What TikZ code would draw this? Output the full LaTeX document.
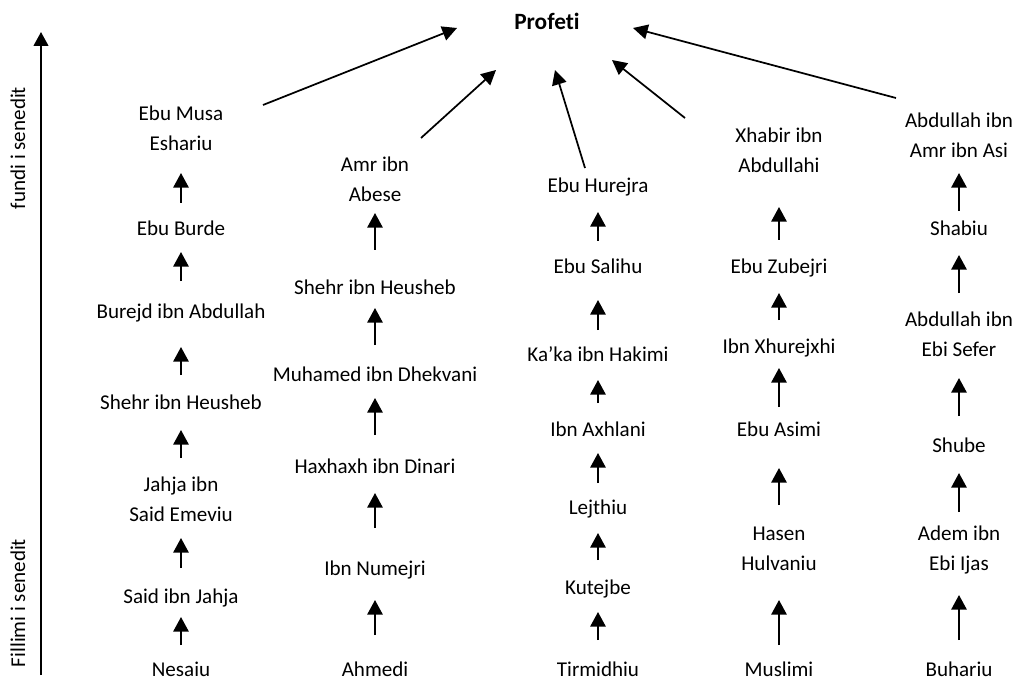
\documentclass[tikz,border=0pt]{standalone}
\usepackage{fontspec}
\setmainfont{Carlito}[Ligatures=NoCommon]
\usetikzlibrary{arrows.meta}
\begin{document}
\begin{tikzpicture}[x=0.75pt,y=-0.75pt,
  lbl/.style={font=\fontsize{15.8}{22.5}\selectfont, align=center, inner sep=0pt, anchor=base},
  arr/.style={line width=1.5pt, -{Triangle[length=11pt,width=11.5pt]}},
  darr/.style={line width=1.3pt, -{Triangle[length=11pt,width=11pt]}}]
\useasboundingbox (0,0) rectangle (1018,681);
\newcommand{\vup}[4]{% x, ybottom, ytop, name
  \coordinate (#4b) at (#1,#2);
  \coordinate (#4t) at (#1,#3);
  \draw[arr] (#4b) -- (#4t);}
% axis
\coordinate (axb) at (41,675);
\coordinate (axt) at (41,32);
\draw[line width=1.6pt,-{Triangle[length=10.5pt,width=11pt]}] (axb) -- (axt);
\node[lbl, rotate=90, anchor=center] (lt) at (18,148) {fundi i senedit};
\node[lbl, rotate=90, anchor=center] (lb) at (18,603) {Fillimi i senedit};
% top
\node[lbl, font=\fontsize{17.5}{22.5}\selectfont\bfseries] (prof) at (547,30) {Profeti};
% column 1
\node[lbl] (n11) at (181,151) {Ebu Musa\\Eshariu};
\node[lbl] (n12) at (181,236) {Ebu Burde};
\node[lbl] (n13) at (181,318) {Burejd ibn Abdullah};
\node[lbl] (n14) at (181,409) {Shehr ibn Heusheb};
\node[lbl] (n15) at (181,521) {Jahja ibn\\Said Emeviu};
\node[lbl] (n16) at (181,603) {Said ibn Jahja};
\node[lbl] (n17) at (181,676) {Nesaiu};
\vup{181}{203}{173}{a11}
\vup{181}{281}{252}{a12}
\vup{181}{375}{347}{a13}
\vup{181}{458}{430}{a14}
\vup{181}{568}{538}{a15}
\vup{181}{645}{617}{a16}
% column 2
\node[lbl] (n21) at (375,202) {Amr ibn\\Abese};
\node[lbl] (n22) at (375,294) {Shehr ibn Heusheb};
\node[lbl] (n23) at (375,381) {Muhamed ibn Dhekvani};
\node[lbl] (n24) at (375,473) {Haxhaxh ibn Dinari};
\node[lbl] (n25) at (375,575) {Ibn Numejri};
\node[lbl] (n26) at (375,676) {Ahmedi};
\vup{375}{250}{213}{a21}
\vup{375}{345}{308}{a22}
\vup{375}{435}{398}{a23}
\vup{375}{528}{493}{a24}
\vup{375}{635}{600}{a25}
% column 3
\node[lbl] (n31) at (598,193) {Ebu Hurejra};
\node[lbl] (n32) at (598,273) {Ebu Salihu};
\node[lbl] (n33) at (598,361) {Ka’ka ibn Hakimi};
\node[lbl] (n34) at (598,436) {Ibn Axhlani};
\node[lbl] (n35) at (598,514) {Lejthiu};
\node[lbl] (n36) at (598,594) {Kutejbe};
\node[lbl] (n37) at (598,676) {Tirmidhiu};
\vup{598}{241}{212}{a31}
\vup{598}{330}{300}{a32}
\vup{598}{403}{380}{a33}
\vup{598}{483}{453}{a34}
\vup{598}{560}{533}{a35}
\vup{598}{640}{612}{a36}
% column 4
\node[lbl] (n41) at (779,173) {Xhabir ibn\\Abdullahi};
\node[lbl] (n42) at (779,273) {Ebu Zubejri};
\node[lbl] (n43) at (779,353) {Ibn Xhurejxhi};
\node[lbl] (n44) at (779,436) {Ebu Asimi};
\node[lbl] (n45) at (779,570) {Hasen\\Hulvaniu};
\node[lbl] (n46) at (779,676) {Muslimi};
\vup{779}{240}{207}{a41}
\vup{779}{320}{293}{a42}
\vup{779}{407}{368}{a43}
\vup{779}{505}{468}{a44}
\vup{779}{645}{600}{a45}
% column 5
\node[lbl] (n51) at (959,158) {Abdullah ibn\\Amr ibn Asi};
\node[lbl] (n52) at (959,236) {Shabiu};
\node[lbl] (n53) at (959,356) {Abdullah ibn\\Ebi Sefer};
\node[lbl] (n54) at (959,452) {Shube};
\node[lbl] (n55) at (959,570) {Adem ibn\\Ebi Ijas};
\node[lbl] (n56) at (959,676) {Buhariu};
\vup{959}{211}{173}{a51}
\vup{959}{293}{255}{a52}
\vup{959}{416}{378}{a53}
\vup{959}{512}{473}{a54}
\vup{959}{640}{595}{a55}
% diagonals to Profeti
\coordinate (d1s) at (263,105); \coordinate (d1e) at (457,28);
\coordinate (d2s) at (421,138); \coordinate (d2e) at (496,70);
\coordinate (d3s) at (585,168); \coordinate (d3e) at (555,70);
\coordinate (d4s) at (685,118); \coordinate (d4e) at (612,60);
\coordinate (d5s) at (896,98);  \coordinate (d5e) at (633,28);
\draw[darr] (d1s) -- (d1e);
\draw[darr] (d2s) -- (d2e);
\draw[darr] (d3s) -- (d3e);
\draw[darr] (d4s) -- (d4e);
\draw[darr] (d5s) -- (d5e);
\end{tikzpicture}
\end{document}
